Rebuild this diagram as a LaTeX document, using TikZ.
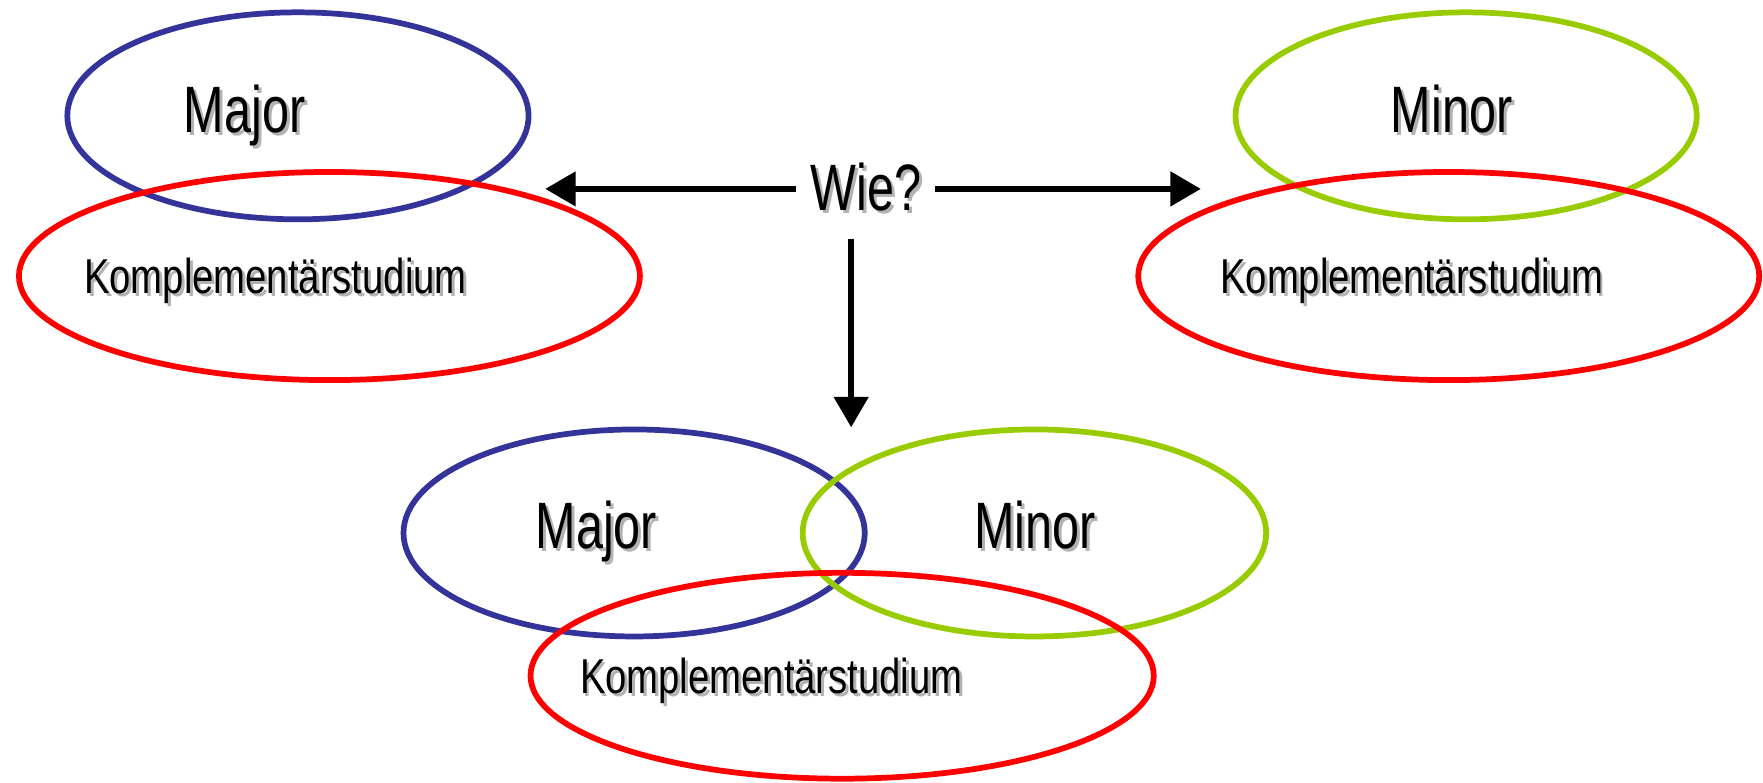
\documentclass[tikz,border=0pt]{standalone}
\usepackage{fontspec}
\newfontfamily\narrowfont{Liberation Sans}[FakeStretch=0.74]
\newfontfamily\smallnarrowfont{Liberation Sans}[FakeStretch=0.78]
\usepackage{tikz}
\usetikzlibrary{shapes}
\usetikzlibrary{arrows.meta}
\tikzstyle{ring}=[shape=ellipse,draw,line width=1.45pt,inner sep=0pt]
\tikzstyle{Majring}=[ring,draw=majorblue,minimum width=4.10cm,minimum height=1.84cm]
\tikzstyle{Minring}=[ring,draw=minorgreen,minimum width=4.10cm,minimum height=1.84cm]
\tikzstyle{Kompring}=[ring,draw=kompred,minimum width=5.52cm,minimum height=1.85cm]
\tikzstyle{biglabel}=[font=\narrowfont\fontsize{16.6}{18}\selectfont,anchor=base,inner sep=0pt]
\tikzstyle{smalllabel}=[font=\smallnarrowfont\fontsize{12.4}{14}\selectfont,anchor=base,inner sep=0pt]
\tikzstyle{wayedge}=[-{Triangle[length=0.27cm,width=0.3cm]},line width=1.4pt]
\definecolor{majorblue}{RGB}{51,51,153}
\definecolor{minorgreen}{RGB}{153,204,0}
\definecolor{kompred}{RGB}{255,0,0}
\newcommand{\shadowed}[1]{\rlap{\hspace{0.75pt}\raisebox{-0.75pt}{\color{black!30}#1}}#1}

\begin{document}
\begin{tikzpicture}[x=0.01cm,y=-0.01cm]
\useasboundingbox (0,0) rectangle (1568,695.5);

%Major + Komplementaerstudium
\node[Majring] (maj1) at (265,103){};
\node[Kompring] (komp1) at (293,245.5){};
\node[biglabel] (majtxt1) at (217.5,117.5){\shadowed{Major}};
\node[smalllabel] (komptxt1) at (245,260.7){\shadowed{Komplementärstudium}};

%Minor + Komplementaerstudium
\node[Minring] (min2) at (1304,103){};
\node[Kompring] (komp2) at (1288.5,245.5){};
\node[biglabel] (mintxt2) at (1291,117.5){\shadowed{Minor}};
\node[smalllabel] (komptxt2) at (1255.5,260.7){\shadowed{Komplementärstudium}};

%Major + Minor + Komplementaerstudium
\node[Majring] (maj3) at (564,474){};
\node[Minring,minimum width=4.12cm] (min3) at (920,474){};
\node[Kompring,minimum width=5.54cm,minimum height=1.83cm] (komp3) at (749,601){};
\node[biglabel] (majtxt3) at (530.5,488){\shadowed{Major}};
\node[biglabel] (mintxt3) at (920.5,488){\shadowed{Minor}};
\node[smalllabel] (komptxt3) at (686,616.5){\shadowed{Komplementärstudium}};

\node[biglabel,anchor=center,inner xsep=0.12cm,inner ysep=0.21cm] (wie) at (770,168){\shadowed{Wie?}};
\coordinate (leftend) at (485,168);
\coordinate (rightend) at (1068,168);
\coordinate (downend) at (757,380);

 \path
(wie.west) edge [wayedge] (leftend)
(wie.east) edge [wayedge] (rightend)
(wie.south -| downend) edge [wayedge] (downend)
;

\end{tikzpicture}
\end{document}
